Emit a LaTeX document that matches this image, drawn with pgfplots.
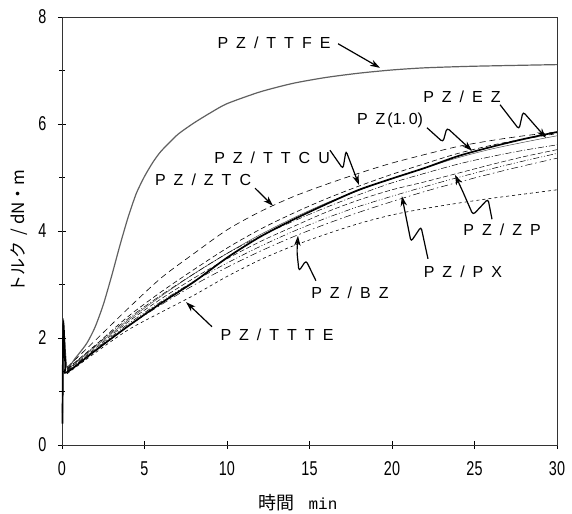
\documentclass[border=0pt]{standalone}
\usepackage{pgfplots}
\pgfplotsset{compat=1.18}
\usetikzlibrary{arrows.meta}
\usepackage{fontspec}
\setmainfont{Liberation Sans}
\newfontfamily\labf[LetterSpace=50]{Liberation Sans}
\newfontfamily\tickf[FakeStretch=0.72]{Liberation Sans}
\newfontfamily\cjk{Noto Sans CJK JP}
\newfontfamily\monof{Liberation Mono}
\begin{document}
\begin{tikzpicture}
\tikzset{
  lab/.style={font=\labf\fontsize{16}{16}\selectfont, inner sep=0pt},
  arr/.style={line width=1.2pt, -{Stealth[length=10pt,width=6.5pt,fill=gray!55]}, rounded corners=3pt},
}
\begin{axis}[
  scale only axis, width=495pt, height=428pt,
  xmin=0, xmax=30, ymin=0, ymax=8,
  xtick={0,5,...,30}, ytick={0,2,...,8}, minor ytick={1,3,5,7},
  tick align=center, major tick length=8pt, minor tick length=5pt,
  xtick pos=bottom, ytick pos=left,
  axis line style={line width=0.6pt, black!80},
  tick style={black, line width=0.5pt},
  ticklabel style={font=\tickf\fontsize{20}{20}\selectfont},
  yticklabel style={xshift=-8pt},
  xticklabel style={yshift=-9pt},
  /pgf/number format/assume math mode=true,
  clip=false,
]
% PZ/TTFE (gray solid)
\addplot[gray!75!black, line width=1.2pt, smooth, tension=0.4] coordinates {
(0.03,0.6)(0.1,2.1)(0.3,1.45)(0.8,1.62)(1.5,1.90)(2.0,2.20)(2.5,2.62)(3.0,3.15)(3.5,3.72)(4.0,4.25)(4.5,4.70)(5.0,5.02)(5.5,5.28)(6.0,5.49)(7.0,5.80)(8.0,6.02)(9.0,6.21)(10,6.38)(12,6.60)(14,6.76)(16,6.87)(18,6.95)(20,7.01)(22,7.05)(25,7.08)(30,7.11)};
% PZ/ZTC (long dashed, top)
\addplot[black, line width=0.6pt, dash pattern=on 6pt off 4pt, smooth] coordinates {
(0.3,1.45)(2,1.95)(4,2.55)(6,3.12)(8,3.58)(10,4.02)(12,4.36)(14,4.64)(16,4.87)(18,5.08)(20,5.27)(22,5.43)(24,5.58)(26,5.69)(28,5.78)(30,5.85)};
% PZ/TTCU (dashed)
\addplot[black, line width=0.6pt, dash pattern=on 5pt off 3pt, smooth] coordinates {
(0.3,1.42)(2,1.86)(4,2.40)(6,2.86)(8,3.28)(10,3.68)(12,4.03)(14,4.33)(16,4.60)(18,4.84)(20,5.06)(22,5.26)(24,5.45)(26,5.60)(28,5.72)(30,5.82)};
% PZ/EZ (thin solid)
\addplot[black!70, line width=0.5pt, smooth] coordinates {
(0.3,1.40)(2,1.83)(4,2.33)(6,2.78)(8,3.20)(10,3.58)(12,3.93)(14,4.24)(16,4.52)(18,4.76)(20,4.98)(22,5.18)(24,5.37)(26,5.53)(28,5.66)(30,5.78)};
% dash-dot
\addplot[black, line width=0.5pt, dash pattern=on 6pt off 2pt on 1pt off 2pt, smooth] coordinates {
(0.3,1.41)(2,1.85)(4,2.36)(6,2.80)(8,3.20)(10,3.58)(12,3.90)(14,4.18)(16,4.44)(18,4.68)(20,4.90)(22,5.08)(24,5.25)(26,5.39)(28,5.51)(30,5.61)};
% PZ/ZP (dashed)
\addplot[black, line width=0.5pt, dash pattern=on 5pt off 2.5pt, smooth] coordinates {
(0.3,1.39)(2,1.80)(4,2.30)(6,2.73)(8,3.12)(10,3.48)(12,3.80)(14,4.08)(16,4.35)(18,4.58)(20,4.77)(22,4.92)(24,5.08)(26,5.24)(28,5.39)(30,5.52)};
% PZ/PX (dash-dot-dot)
\addplot[black, line width=0.5pt, dash pattern=on 6pt off 2pt on 1pt off 2pt on 1pt off 2pt, smooth] coordinates {
(0.3,1.38)(2,1.78)(4,2.26)(6,2.68)(8,3.06)(10,3.40)(12,3.71)(14,3.99)(16,4.24)(18,4.46)(20,4.65)(22,4.83)(24,5.00)(26,5.16)(28,5.31)(30,5.45)};
% PZ/BZ (dash-dot)
\addplot[black, line width=0.5pt, dash pattern=on 7pt off 3pt on 1.5pt off 3pt, smooth] coordinates {
(0.3,1.37)(2,1.76)(4,2.22)(6,2.62)(8,2.99)(10,3.32)(12,3.62)(14,3.89)(16,4.13)(18,4.35)(20,4.55)(22,4.74)(24,4.91)(26,5.07)(28,5.22)(30,5.36)};
% PZ/TTTE (short dashed, lowest)
\addplot[black, line width=0.6pt, dash pattern=on 3pt off 3pt, smooth] coordinates {
(0.3,1.33)(2,1.72)(4,2.15)(6,2.48)(8,2.80)(10,3.15)(12,3.46)(14,3.72)(16,3.94)(18,4.14)(20,4.30)(22,4.42)(24,4.52)(26,4.61)(28,4.69)(30,4.77)};
% PZ(1.0) thick solid
\addplot[black, line width=1.7pt, smooth, tension=0.5] coordinates {
(0.03,0.4)(0.08,2.25)(0.2,1.5)(0.3,1.36)(2,1.76)(4,2.22)(6,2.65)(8,3.05)(10,3.50)(12,3.89)(14,4.21)(16,4.50)(18,4.77)(20,4.98)(22,5.18)(24,5.40)(26,5.57)(28,5.72)(30,5.85)};

% labels and arrows
\node[lab] at (axis cs:12.85,7.51) {PZ/TTFE};
\draw[arr] (axis cs:16.73,7.50) -- (axis cs:19.27,7.05);
\node[lab] at (axis cs:8.55,4.95) {PZ/ZTC};
\draw[arr] (axis cs:11.70,4.80) -- (axis cs:12.79,4.47);
\node[lab] at (axis cs:12.73,5.36) {PZ/TTCU};
\draw[arr] (axis cs:16.24,5.51) -- (axis cs:17.03,5.16) -- (axis cs:17.21,5.50) -- (axis cs:18.0,4.86);
\node[lab, anchor=center] at (axis cs:19.88,6.07) {PZ\hspace{2pt}{\fontspec{Liberation Sans}\fontsize{16}{16}\selectfont(1.\,0)}};
\draw[arr] (axis cs:22.12,5.93) -- (axis cs:23.09,5.66) -- (axis cs:23.33,5.93) -- (axis cs:24.85,5.50);
\node[lab] at (axis cs:24.24,6.50) {PZ/EZ};
\draw[arr] (axis cs:26.55,6.36) -- (axis cs:27.70,5.90) -- (axis cs:27.94,6.23) -- (axis cs:29.33,5.74);
\node[lab] at (axis cs:26.67,4.02) {PZ/ZP};
\draw[arr] (axis cs:26.06,4.22) -- (axis cs:25.82,4.60) -- (axis cs:24.91,4.30) -- (axis cs:24.30,4.73) -- (axis cs:23.82,5.05);
\node[lab] at (axis cs:24.30,3.23) {PZ/PX};
\draw[arr] (axis cs:22.18,3.48) -- (axis cs:21.76,4.08) -- (axis cs:21.15,3.80) -- (axis cs:20.60,4.65);
\node[lab] at (axis cs:17.45,2.84) {PZ/BZ};
\draw[arr] (axis cs:15.39,3.07) -- (axis cs:14.79,3.45) -- (axis cs:14.36,3.25) -- (axis cs:14.24,3.61) -- (axis cs:14.30,3.91);
\node[lab] at (axis cs:13.03,2.06) {PZ/TTTE};
\draw[arr] (axis cs:9.09,2.21) -- (axis cs:7.52,2.67);

% x label
\node[anchor=center] at (axis cs:14.3,0) [yshift=-58pt] {{\cjk\fontsize{18}{18}\selectfont 時間}\hspace{14pt}{\monof\fontsize{16}{16}\selectfont min}};
\end{axis}
\node[rotate=90] at ([xshift=-43pt]current axis.west) {\cjk\fontsize{17}{17}\selectfont トルク\hspace{6pt}/\hspace{4pt}dN・m};
\pgfresetboundingbox
\path ([shift={(-62pt,-69pt)}]current axis.south west) rectangle ([shift={(15pt,17pt)}]current axis.north east);
\end{tikzpicture}
\end{document}
